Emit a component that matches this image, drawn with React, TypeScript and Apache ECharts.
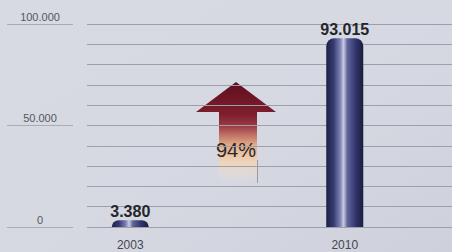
import React, { useEffect, useRef } from "react";
import * as echarts from "echarts";

const categories = ["2003", "2010"];
const values = [3380, 93015];
const valueLabels = ["3.380", "93.015"];
const yTickLabels: Record<number, string> = { 0: "0", 50000: "50.000", 100000: "100.000" };
const growthLabel = "94%";
const yMax = 100000;

export default function App() {
  const ref = useRef<HTMLDivElement>(null);
  useEffect(() => {
    const chart = echarts.init(ref.current!, undefined, { renderer: "svg" });
    const barGradient = new echarts.graphic.LinearGradient(0, 0, 1, 0, [
      { offset: 0, color: "#1c1f44" },
      { offset: 0.2, color: "#363b72" },
      { offset: 0.38, color: "#7e83b6" },
      { offset: 0.47, color: "#c8cbe2" },
      { offset: 0.57, color: "#5f649a" },
      { offset: 0.8, color: "#30346a" },
      { offset: 1, color: "#1a1d3e" },
    ]);
    const arrowGradient = new echarts.graphic.LinearGradient(0, 0, 0, 1, [
      { offset: 0, color: "#5e0e1e" },
      { offset: 0.32, color: "#7e1e2e" },
      { offset: 0.44, color: "#9a3a44" },
      { offset: 0.54, color: "#c47868" },
      { offset: 0.64, color: "#e4b08c" },
      { offset: 0.8, color: "#efd4ba" },
      { offset: 1, color: "rgba(236,224,214,0)" },
    ]);
    chart.setOption({
      animation: false,
      backgroundColor: new echarts.graphic.LinearGradient(0, 0, 1, 1, [
        { offset: 0, color: "#d8dae1" },
        { offset: 0.5, color: "#d7d9e2" },
        { offset: 1, color: "#ced1dc" },
      ]),
      grid: [
        { left: 87, right: 0, top: 24, bottom: 25 },
        { left: 7, width: 66, top: 24, bottom: 25 },
        { left: 23, width: 442, top: 24, bottom: 25 },
      ],
      xAxis: [
        { gridIndex: 0, type: "value", show: false },
        { gridIndex: 1, type: "value", show: false },
        {
          gridIndex: 2,
          type: "category",
          data: categories,
          axisLine: { show: false },
          axisTick: { show: false },
          axisLabel: { color: "#45474f", fontSize: 12, margin: 12, fontFamily: "Liberation Sans" },
        },
      ],
      yAxis: [
        {
          gridIndex: 0,
          type: "value",
          min: 0,
          max: yMax,
          interval: 10000,
          axisLabel: { show: false },
          axisLine: { show: false },
          axisTick: { show: false },
          splitLine: { lineStyle: { color: "#9da0aa", width: 1 } },
        },
        {
          gridIndex: 1,
          type: "value",
          min: 0,
          max: yMax,
          interval: 50000,
          axisLine: { show: false },
          axisTick: { show: false },
          splitLine: { lineStyle: { color: "#a9acb5", width: 1 } },
          axisLabel: {
            inside: true,
            align: "center",
            verticalAlign: "bottom",
            margin: 33,
            padding: [0, 0, 2, 0],
            color: "#54565e",
            fontSize: 11,
            fontFamily: "Liberation Sans",
            formatter: (v: number) => yTickLabels[v] ?? "",
          },
        },
        { gridIndex: 2, type: "value", min: 0, max: yMax, show: false },
      ],
      series: [
        {
          type: "bar",
          xAxisIndex: 2,
          yAxisIndex: 2,
          data: values,
          barWidth: 37,
          itemStyle: { color: barGradient, borderRadius: [8, 8, 0, 0] },
          label: {
            show: true,
            position: "top",
            distance: 1,
            color: "#25262b",
            fontWeight: "bold",
            fontFamily: "Liberation Sans",
            fontSize: 16,
            formatter: (p: any) => valueLabels[p.dataIndex],
          },
        },
      ],
      graphic: [
        {
          type: "polygon",
          shape: {
            points: [
              [236, 82],
              [276, 112],
              [257, 112],
              [257, 182],
              [219, 182],
              [219, 112],
              [196, 112],
            ],
          },
          style: { fill: arrowGradient },
        },
        {
          type: "line",
          shape: { x1: 257.5, y1: 160, x2: 257.5, y2: 183 },
          style: { stroke: "#9a9aa2", lineWidth: 1 },
        },
        {
          type: "text",
          x: 236,
          y: 150,
          style: {
            text: growthLabel,
            fill: "#2a2628",
            fontSize: 20,
            fontFamily: "Liberation Sans",
            align: "center",
            verticalAlign: "middle",
          },
        },
      ],
    });
    return () => chart.dispose();
  }, []);
  return <div ref={ref} style={{ position: "fixed", left: 0, top: 0, width: 452, height: 252 }} />;
}
